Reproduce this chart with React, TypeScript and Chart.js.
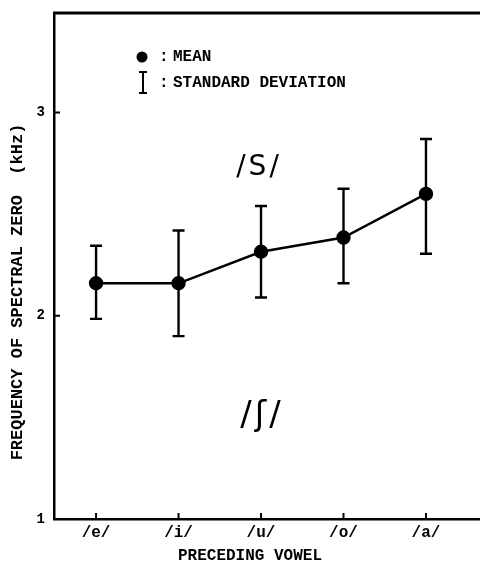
import React, { useEffect, useRef } from "react";
import { Chart, registerables } from "chart.js";

Chart.register(...registerables);

const categories = ["/e/", "/i/", "/u/", "/o/", "/a/"];
const meanValues = [2.16, 2.16, 2.315, 2.385, 2.6];
const sdUpper = [2.345, 2.42, 2.54, 2.625, 2.87];
const sdLower = [1.985, 1.9, 2.09, 2.16, 2.305];
const yTicks = [1, 2, 3];

const MONO = "'Liberation Mono', 'DejaVu Sans Mono', monospace";

const decorPlugin = {
  id: "decor",
  beforeDatasetsDraw(chart: any) {
    const ctx = chart.ctx;
    const xs = chart.scales.x;
    const ys = chart.scales.y;
    ctx.save();
    ctx.strokeStyle = "#000";
    ctx.lineWidth = 2.4;
    for (let i = 0; i < categories.length; i++) {
      const x = xs.getPixelForValue(i);
      const yt = ys.getPixelForValue(sdUpper[i]);
      const yb = ys.getPixelForValue(sdLower[i]);
      ctx.beginPath();
      ctx.moveTo(x, yt);
      ctx.lineTo(x, yb);
      ctx.moveTo(x - 6, yt);
      ctx.lineTo(x + 6, yt);
      ctx.moveTo(x - 6, yb);
      ctx.lineTo(x + 6, yb);
      ctx.stroke();
    }
    ctx.restore();
  },
  afterDraw(chart: any) {
    const ctx = chart.ctx;
    const xs = chart.scales.x;
    const ys = chart.scales.y;
    const area = chart.chartArea;
    ctx.save();
    ctx.strokeStyle = "#000";
    ctx.fillStyle = "#000";
    // top frame line
    ctx.lineWidth = 3;
    ctx.beginPath();
    ctx.moveTo(area.left - 1, area.top);
    ctx.lineTo(area.right, area.top);
    ctx.stroke();
    // inward tick marks
    ctx.lineWidth = 2;
    ctx.beginPath();
    for (const v of yTicks) {
      const y = ys.getPixelForValue(v);
      ctx.moveTo(area.left, y);
      ctx.lineTo(area.left + 6, y);
    }
    for (let i = 0; i < categories.length; i++) {
      const x = xs.getPixelForValue(i);
      ctx.moveTo(x, area.bottom);
      ctx.lineTo(x, area.bottom - 6);
    }
    ctx.stroke();

    // legend
    ctx.beginPath();
    ctx.arc(142, 57, 5.5, 0, Math.PI * 2);
    ctx.fill();
    ctx.lineWidth = 2;
    ctx.beginPath();
    ctx.moveTo(143, 72);
    ctx.lineTo(143, 93);
    ctx.moveTo(139, 72);
    ctx.lineTo(147, 72);
    ctx.moveTo(139, 93);
    ctx.lineTo(147, 93);
    ctx.stroke();
    ctx.font = `bold 16px ${MONO}`;
    ctx.textBaseline = "middle";
    ctx.textAlign = "left";
    ctx.fillText(":", 159, 57);
    ctx.fillText(":", 159, 83);
    ctx.fillText("MEAN", 173, 57);
    ctx.fillText("STANDARD DEVIATION", 173, 83);

    // region labels
    ctx.textAlign = "center";
    ctx.font = "500 28px 'DejaVu Sans', sans-serif";
    (ctx as any).letterSpacing = "3px";
    ctx.fillText("/S/", 259, 168);
    ctx.font = "500 34px 'DejaVu Sans', sans-serif";
    ctx.fillText("/\u0283/", 262, 416);
    (ctx as any).letterSpacing = "0px";

    // axis titles
    ctx.font = `bold 16px ${MONO}`;
    ctx.fillText("PRECEDING VOWEL", 250, 556);
    ctx.font = `bold 17px ${MONO}`;
    ctx.translate(18, 292);
    ctx.rotate(-Math.PI / 2);
    ctx.fillText("FREQUENCY OF SPECTRAL ZERO  (kHz)", 0, 0);
    ctx.restore();
  },
};

export default function App() {
  const ref = useRef<HTMLCanvasElement>(null);
  useEffect(() => {
    const chart = new Chart(ref.current as HTMLCanvasElement, {
      type: "line",
      data: {
        datasets: [
          {
            label: "MEAN",
            data: meanValues.map((v, i) => ({ x: i, y: v })),
            borderColor: "#000",
            backgroundColor: "#000",
            borderWidth: 2.4,
            pointRadius: 6,
            pointBackgroundColor: "#000",
            pointBorderColor: "#000",
            tension: 0,
          },
        ],
      },
      options: {
        animation: false,
        responsive: false,
        layout: { autoPadding: false, padding: { top: 13, right: 0, left: 0, bottom: 0 } },
        plugins: { legend: { display: false }, title: { display: false }, tooltip: { enabled: false } },
        scales: {
          x: {
            type: "linear",
            min: -0.51,
            max: 4.655,
            afterBuildTicks: (s: any) => {
              s.ticks = categories.map((_, i) => ({ value: i }));
            },
            afterFit: (s: any) => {
              s.height = 44;
              s.paddingLeft = 0;
              s.paddingRight = 0;
            },
            ticks: {
              callback: (v: any) => categories[v] ?? "",
              font: { family: MONO, size: 16, weight: "bold" },
              color: "#000",
              padding: 4,
              autoSkip: false,
              maxRotation: 0,
            },
            grid: { display: false, drawTicks: false },
            border: { display: true, color: "#000", width: 2.5 },
          },
          y: {
            type: "linear",
            min: 1,
            max: 3.49,
            afterBuildTicks: (s: any) => {
              s.ticks = yTicks.map((v) => ({ value: v }));
            },
            afterFit: (s: any) => {
              s.width = 54;
              s.paddingTop = 0;
              s.paddingBottom = 0;
            },
            ticks: {
              font: { family: MONO, size: 14, weight: "bold" },
              color: "#000",
              padding: 9,
            },
            grid: { display: false, drawTicks: false },
            border: { display: true, color: "#000", width: 2.5 },
          },
        },
      },
      plugins: [decorPlugin],
    } as any);
    return () => chart.destroy();
  }, []);
  return (
    <div style={{ position: "absolute", left: 0, top: 0, width: 480, height: 563, background: "#fff" }}>
      <canvas ref={ref} width={480} height={563} />
    </div>
  );
}
